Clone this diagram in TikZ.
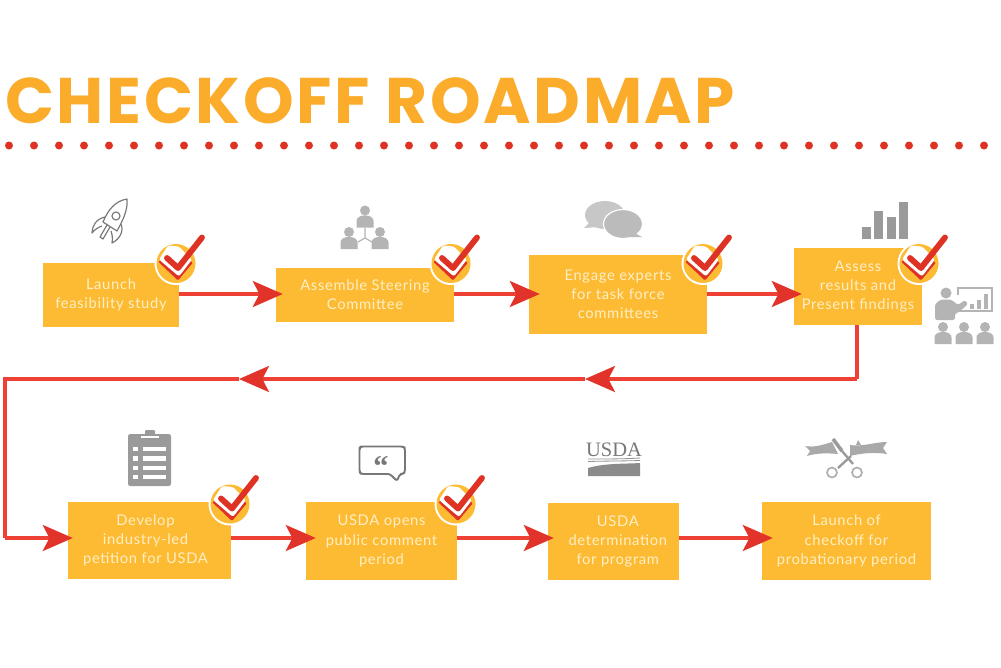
\documentclass[tikz,border=0pt]{standalone}
\usepackage{fontspec}
\setmainfont[LetterSpace=4.5]{Lato}
\newfontfamily\titlefont[LetterSpace=4]{Poppins}
\newfontfamily\logofont{Liberation Serif}
\usetikzlibrary{positioning}
\usetikzlibrary{calc}
\usetikzlibrary{arrows.meta}
\definecolor{boxyellow}{HTML}{FDBA33}
\definecolor{titleyellow}{HTML}{FBAC2B}
\definecolor{boxtext}{HTML}{FFEFC4}
\definecolor{dotred}{HTML}{DE3324}
\definecolor{linered}{HTML}{EE4035}
\definecolor{headred}{HTML}{E2332A}
\definecolor{iconlight}{HTML}{B4B4B4}
\definecolor{iconmid}{HTML}{9A9A9A}
\definecolor{icondark}{HTML}{777777}

\tikzset{
    stepbox/.style={fill=boxyellow, text=boxtext, align=center, inner sep=0pt,
        font=\fontsize{12.6}{16.4}\selectfont},
    steplabel/.style={text=boxtext, align=center, inner sep=0pt,
        font=\fontsize{12.6}{16.4}\selectfont},
    flow/.style={draw=linered, line width=2.8pt,
        -{Stealth[length=0.9cm, width=0.78cm, inset=0.2cm, color=headred, fill=headred]}},
    plainflow/.style={draw=linered, line width=2.8pt},
    person/.pic={
        \fill[iconlight] (0,-10.5) circle (5);
        \fill[iconlight] (-8.5,6.5) -- (-8.5,0) .. controls (-8.5,-7.5) and (8.5,-7.5) .. (8.5,0) -- (8.5,6.5) -- cycle;
    },
    checkbadge/.pic={
        \fill[white] (0,0) circle (21.5);
        \fill[boxyellow] (0,0) circle (19.5);
        \fill[dotred, rounded corners=1pt] (-18,-2) -- (2,17) -- (17,-1) -- (3,-8) -- cycle;
        \fill[white, rounded corners=2pt] (-17,-4) -- (-8,-18) -- (3,-17) -- (16,-4) -- (3,13) -- cycle;
        \draw[dotred, line width=5pt, line cap=round, line join=round] (-9,-5.5) -- (2,4.5) -- (26,-26);
    },
}

\begin{document}
\begin{tikzpicture}[x=0.03cm, y=-0.03cm]
    \useasboundingbox (0,0) rectangle (1001,667);
    \fill[white] (0,0) rectangle (1001,667);

    % title and dotted rule
    \node (title) [anchor=base west, inner sep=0pt, text=titleyellow,
        font=\titlefont\bfseries\fontsize{55}{60}\selectfont] at (5,123) {CHECKOFF ROADMAP};
    \foreach \x in {0,...,39} {
        \fill[dotred] (9+25*\x, 145.5) circle (4);
    }

    % first row
    \node (box1) [stepbox, minimum width=4.08cm, minimum height=1.92cm] at (111,295) {Launch\\feasibility study};
    \node (box2) [stepbox, minimum width=5.34cm, minimum height=1.62cm] at (365,295) {Assemble Steering\\Committee};
    \node (box3) [stepbox, minimum width=5.34cm, minimum height=2.37cm] at (618,294.5) {Engage experts\\for task force\\committees};
    \node (box4) [stepbox, minimum width=3.84cm, minimum height=2.31cm] at (858,286.5) {Assess\\results and\\Present findings};

    % second row
    \node (box5) [stepbox, minimum width=4.89cm, minimum height=2.31cm,
        label={[steplabel, xshift=-0.12cm]center:Develop\\industry-led\\petition for USDA}] at (149.5,540.5) {};
    \node (box6) [stepbox, minimum width=4.53cm, minimum height=2.34cm] at (381.5,541) {USDA opens\\public comment\\period};
    \node (box7) [stepbox, minimum width=3.93cm, minimum height=2.31cm,
        label={[steplabel, xshift=0.13cm]center:USDA\\determination\\for program}] at (613.5,541.5) {};
    \node (box8) [stepbox, minimum width=5.07cm, minimum height=2.34cm] at (846.5,541) {Launch of\\checkoff for\\probationary period};

    \coordinate (toprow) at (0,294);
    \coordinate (lowrow) at (0,538);
    \coordinate (turna) at (857,379);
    \coordinate (mida) at (585,379);
    \coordinate (midb) at (239,379);
    \coordinate (turnb) at (5,379);
    \coordinate (turnc) at (5,538);

    % connectors
    \draw[flow, shorten >=-0.21cm] (box1.east |- toprow) -- (box2.west |- toprow);
    \draw[flow, shorten >=-0.33cm] (box2.east |- toprow) -- (box3.west |- toprow);
    \draw[flow, shorten >=-0.24cm] (box3.east |- toprow) -- (box4.west |- toprow);
    \draw[plainflow] (box4.south -| turna) -- (turna);
    \draw[flow] (turna) -- (mida);
    \draw[flow] (mida) -- (midb);
    \draw[plainflow] (midb) -- (turnb) -- (turnc);
    \draw[flow, shorten >=-0.15cm] (turnc) -- (box5.west |- lowrow);
    \draw[flow, shorten >=-0.30cm] (box5.east |- lowrow) -- (box6.west |- lowrow);
    \draw[flow, shorten >=-0.18cm] (box6.east |- lowrow) -- (box7.west |- lowrow);
    \draw[flow, shorten >=-0.33cm] (box7.east |- lowrow) -- (box8.west |- lowrow);

    % check marks
    \foreach \bx/\by in {176/263.5, 451/263.5, 703/263.5, 919/263.5, 230/504, 456/504} {
        \pic at (\bx,\by) {checkbadge};
    }

    % rocket
    \begin{scope}[draw=icondark, line width=1pt, line join=round]
        \draw (127,199) .. controls (115,201) and (108,210) .. (103,222) -- (117,231) .. controls (123,220) and (128,210) .. (127,199) -- cycle;
        \draw (116,216) circle (4);
        \draw (105,217) .. controls (96,219) and (92,226) .. (92,233) .. controls (95,229) and (99,227) .. (102,226);
        \draw (121,224) .. controls (124,231) and (120,239) .. (112,243) .. controls (113,238) and (112,234) .. (111,231);
        \draw (107,225) -- (100,237) -- (103,239) -- (110,227);
    \end{scope}

    % steering committee
    \pic at (365,221) {person};
    \pic at (349,242.5) {person};
    \pic at (380,242.5) {person};
    \draw[iconlight, line width=1pt] (365,228) -- (365,238) -- (358,242);
    \draw[iconlight, line width=1pt] (365,238) -- (372,242);

    % speech bubbles
    \fill[iconlight!75] (605,215) ellipse (20 and 14);
    \fill[iconlight!75] (590,222) -- (584,228) -- (598,227) -- cycle;
    \filldraw[fill=iconlight!90, draw=white, line width=1pt] (623,224) ellipse (19.5 and 14.5);
    \fill[iconlight!90] (633,232) -- (642,237) -- (626,237) -- cycle;

    % bar chart
    \foreach \xa/\ytop in {862/227, 874/211, 887/217, 899/202} {
        \fill[iconmid] (\xa,\ytop) rectangle (\xa+9,239);
    }

    % presentation
    \draw[iconlight, line width=2.4pt] (958,295) -- (958,288) -- (992,288) -- (992,311) -- (958,311);
    \foreach \xa/\ytop in {970/304, 977/300, 984/294} {
        \fill[iconlight] (\xa,\ytop) rectangle (\xa+3.5,309);
    }
    \fill[iconlight] (946,293) circle (5.5);
    \fill[iconlight, rounded corners=2pt] (935,320) -- (935,304) -- (941,299.5) -- (951,299.5) -- (958,305) -- (965,300) -- (968,304) -- (958,313) -- (955,313) -- (955,320) -- cycle;
    \foreach \xa in {943,964,985} {
        \pic at (\xa,337.5) {person};
    }

    % clipboard
    \fill[iconmid, rounded corners=2pt] (128,434) rectangle (171,486);
    \fill[iconmid, rounded corners=1pt] (145,430) rectangle (155,436);
    \fill[white] (141,435.5) rectangle (159,438);
    \foreach \y in {449,458.5,468,477} {
        \fill[white] (133,\y-2.2) rectangle (137.5,\y+2.2);
        \fill[white] (143,\y-2.2) rectangle (166,\y+2.2);
    }

    % comment bubble
    \draw[icondark, line width=1.6pt, rounded corners=2pt, line join=round] (390,474) -- (361,474) -- (359.5,472) -- (359.5,448) -- (361,446.5) -- (403,446.5) -- (405,448) -- (405,472) -- (403,474) -- (400,474) -- (397,481) -- cycle;
    \node (quote) [inner sep=0pt, text=icondark, font=\logofont\bfseries\fontsize{26}{26}\selectfont] at (381,466) {“};

    % usda logo
    \node (usda) [anchor=base, inner sep=0pt, text=icondark,
        font=\logofont\fontsize{17.5}{18}\selectfont] at (614,456.5) {USDA};
    \draw[icondark!80, line width=0.7pt] (588,459) .. controls (605,459) and (625,459) .. (640,458);
    \draw[icondark!80, line width=0.7pt] (588,461.5) .. controls (605,461) and (625,461) .. (640,460.5);
    \fill[iconmid!90!black] (588,468) .. controls (605,463) and (625,464) .. (640,463) -- (640,476) -- (588,476) -- cycle;

    % ribbon and scissors
    \fill[iconmid!85!white] (805,446) .. controls (815,448) and (825,444) .. (832,442) -- (838,454) .. controls (828,453) and (816,453) .. (807,456) -- (810,451) -- cycle;
    \fill[iconmid!85!white] (850,445) .. controls (862,447) and (875,442) .. (887,442) -- (883,448) -- (887,454) .. controls (875,452) and (862,453) .. (850,456) -- cycle;
    \fill[iconmid!85!white] (856,445) -- (858,440) -- (861,445) -- cycle;
    \draw[iconmid, line width=3pt] (833,439) -- (842,451);
    \draw[iconmid, line width=2pt] (842,451) -- (853,464);
    \draw[iconmid, line width=2pt] (851,456) -- (838,468);
    \draw[iconmid!80, line width=1.4pt] (832,472.5) circle (5);
    \draw[iconmid!80, line width=1.4pt] (857,472.5) circle (5);
\end{tikzpicture}
\end{document}
